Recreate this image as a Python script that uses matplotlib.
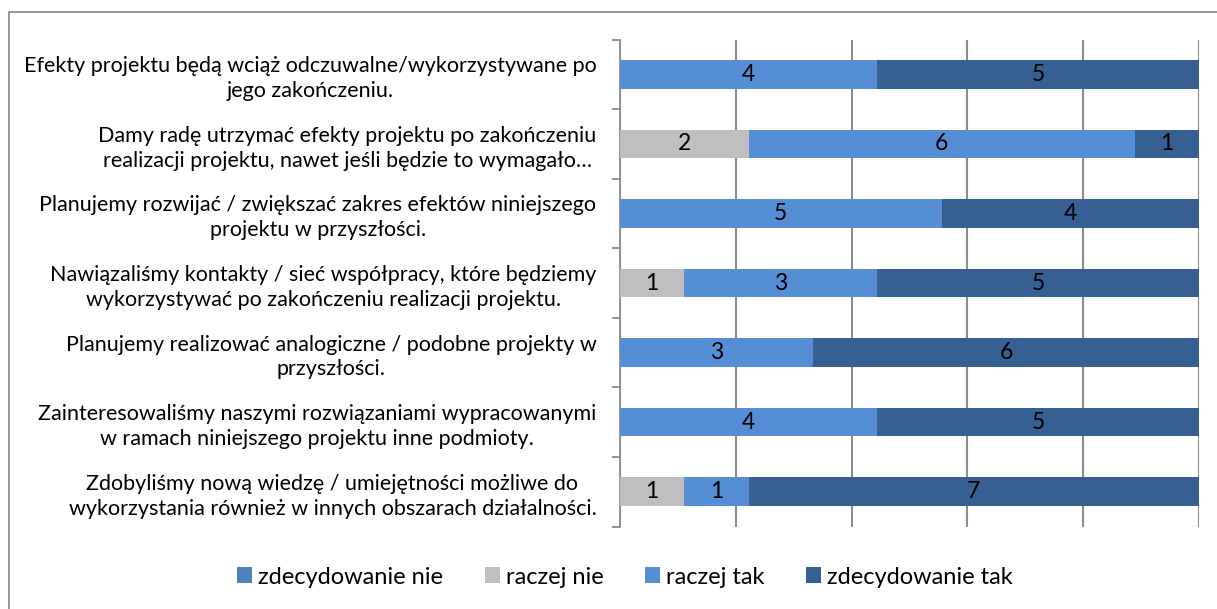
import matplotlib
matplotlib.use("Agg")
import matplotlib.pyplot as plt
from matplotlib.patches import Rectangle, Patch
import numpy as np

categories = [
    "Efekty projektu będą wciąż odczuwalne/wykorzystywane po\njego zakończeniu.",
    "Damy radę utrzymać efekty projektu po zakończeniu\nrealizacji projektu, nawet jeśli będzie to wymagało…",
    "Planujemy rozwijać / zwiększać zakres efektów niniejszego\nprojektu w przyszłości.",
    "Nawiązaliśmy kontakty / sieć współpracy, które będziemy\nwykorzystywać po zakończeniu realizacji projektu.",
    "Planujemy realizować analogiczne / podobne projekty w\nprzyszłości.",
    "Zainteresowaliśmy naszymi rozwiązaniami wypracowanymi\nw ramach niniejszego projektu inne podmioty.",
    "Zdobyliśmy nową wiedzę / umiejętności możliwe do\nwykorzystania również w innych obszarach działalności.",
]
series_names = ["zdecydowanie nie", "raczej nie", "raczej tak", "zdecydowanie tak"]
zdecydowanie_nie = [0, 0, 0, 0, 0, 0, 0]
raczej_nie = [0, 2, 0, 1, 0, 0, 1]
raczej_tak = [4, 6, 5, 3, 3, 4, 1]
zdecydowanie_tak = [5, 1, 4, 5, 6, 5, 7]
colors = ["#4F81BD", "#BFBFBF", "#558ED5", "#366092"]

plt.rcParams['font.family'] = ['Lato', 'DejaVu Sans']

W, H = 1217, 609
fig = plt.figure(figsize=(W / 100, H / 100), dpi=100)
fig.patches.append(Rectangle((9 / W, -0.1), 1.2, 1 - 12 / H + 0.1, transform=fig.transFigure,
                             fill=False, edgecolor="#868686", linewidth=1.2))

ax = fig.add_axes([620 / W, 1 - 526.5 / H, (1199 - 620) / W, (526.5 - 39.5) / H])

data = np.array([zdecydowanie_nie, raczej_nie, raczej_tak, zdecydowanie_tak], dtype=float)
totals = data.sum(axis=0)
pct = data / totals * 100
n = len(categories)
ypos = np.arange(n)
left = np.zeros(n)
for i, name in enumerate(series_names):
    ax.barh(ypos, pct[i], left=left, height=0.41, color=colors[i], label=name, zorder=3)
    for j in range(n):
        if data[i, j] > 0:
            ax.text(left[j] + pct[i, j] / 2, ypos[j], f"{int(data[i, j])}", ha="center", va="center",
                    fontsize=16.5, color="black", zorder=4)
    left += pct[i]

ax.set_xlim(0, 100)
ax.set_ylim(n - 0.5, -0.5)
ax.set_xticks(np.arange(0, 101, 20))
ax.tick_params(axis="x", length=0, labelbottom=False)
ax.grid(axis="x", color="#8C8C8C", linewidth=1.5, zorder=0)
ax.set_yticks(np.arange(-0.5, n, 1))
ax.set_yticklabels([])
ax.set_yticks(ypos, minor=True)
ax.set_yticklabels(categories, minor=True, fontsize=15.5, ha="right", multialignment="center",
                   linespacing=1.3)
ax.tick_params(axis="y", which="major", length=6, color="#8C8C8C", width=1.3, direction="out")
ax.tick_params(axis="y", which="minor", length=0, pad=17)
for s in ["top", "right", "bottom"]:
    ax.spines[s].set_visible(False)
ax.spines["left"].set_color("#8C8C8C")
ax.spines["left"].set_linewidth(1.3)

handles = [Patch(facecolor=c, edgecolor="none") for c in colors]
fig.legend(handles, series_names, loc="center", bbox_to_anchor=(625 / W, 1 - 577 / H), ncol=4,
           frameon=False, fontsize=17, handlelength=0.65, handleheight=0.65, handletextpad=0.25,
           columnspacing=1.75)

fig.savefig("out.png", dpi=100)
